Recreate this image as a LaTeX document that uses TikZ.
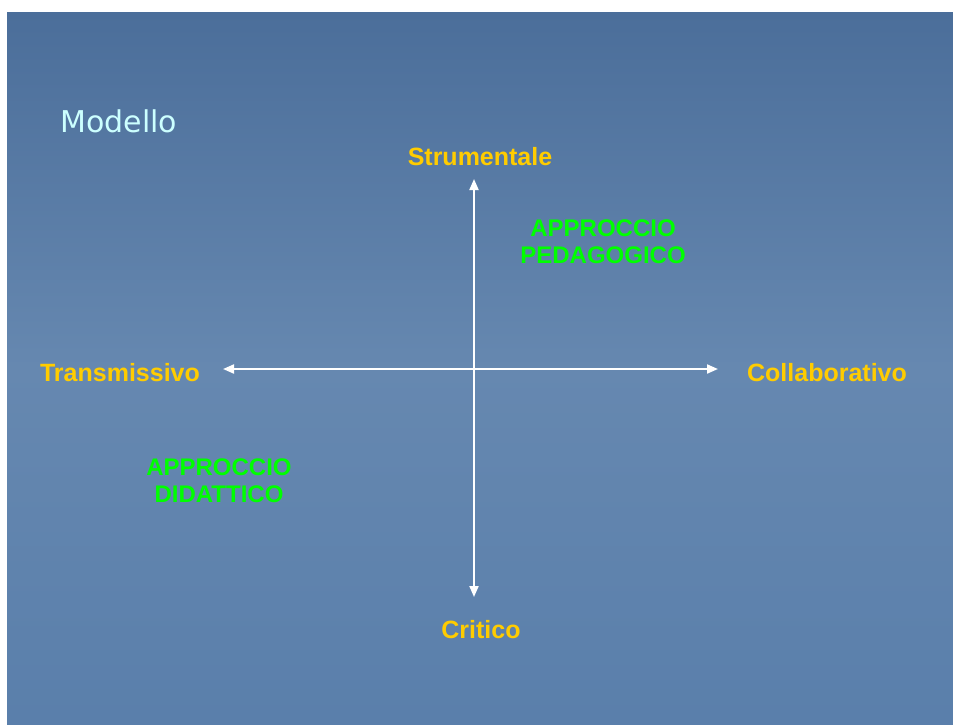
\documentclass[tikz,border=0pt]{standalone}
\usepackage{fontspec}
\setmainfont{Liberation Sans}
\newfontfamily\tahoma{DejaVu Sans}
\usetikzlibrary{arrows.meta}
\definecolor{slidetop}{HTML}{4B6E9A}
\definecolor{slidemid}{HTML}{6688B0}
\definecolor{slidebot}{HTML}{5A7FAB}
\definecolor{axislabel}{HTML}{FFCC00}
\definecolor{approach}{HTML}{00FF00}
\definecolor{titlecol}{HTML}{CCFFFF}
\tikzset{
  axis/.style={draw=white,line width=2pt,{Triangle[length=11pt,width=9pt]}-{Triangle[length=11pt,width=9pt]}},
  pole/.style={text=axislabel,font=\fontsize{25}{29}\selectfont\bfseries},
  quad/.style={text=approach,font=\fontsize{24}{27}\selectfont\bfseries,align=center}
}

\begin{document}
\begin{tikzpicture}[x=1pt,y=-1pt]
        \useasboundingbox[fill=white] (0,0) rectangle (953,724);
        \shade[top color=slidetop,bottom color=slidebot,middle color=slidemid] (7,12) rectangle (953,724);
        \node[text=titlecol,font=\tahoma\fontsize{30}{34}\selectfont,anchor=west] (title) at (57,121) {Modello};
        % poles
        \node[pole] (strum) at (480,157) {Strumentale};
        \node[pole] (crit) at (481,630) {Critico};
        \node[pole] (trans) at (120,373) {Transmissivo};
        \node[pole] (coll) at (827,373) {Collaborativo};
        % axes
        \coordinate (top) at (474,179); \coordinate (bot) at (474,597);
        \coordinate (left) at (223,369); \coordinate (right) at (718,369);
        \draw[axis] (top)--(bot); \draw[axis] (left)--(right);
        % quadrants
        \node[quad] (ped) at (603,242) {APPROCCIO\\PEDAGOGICO};
        \node[quad] (did) at (219,481) {APPROCCIO\\DIDATTICO};
    \end{tikzpicture}
\end{document}
